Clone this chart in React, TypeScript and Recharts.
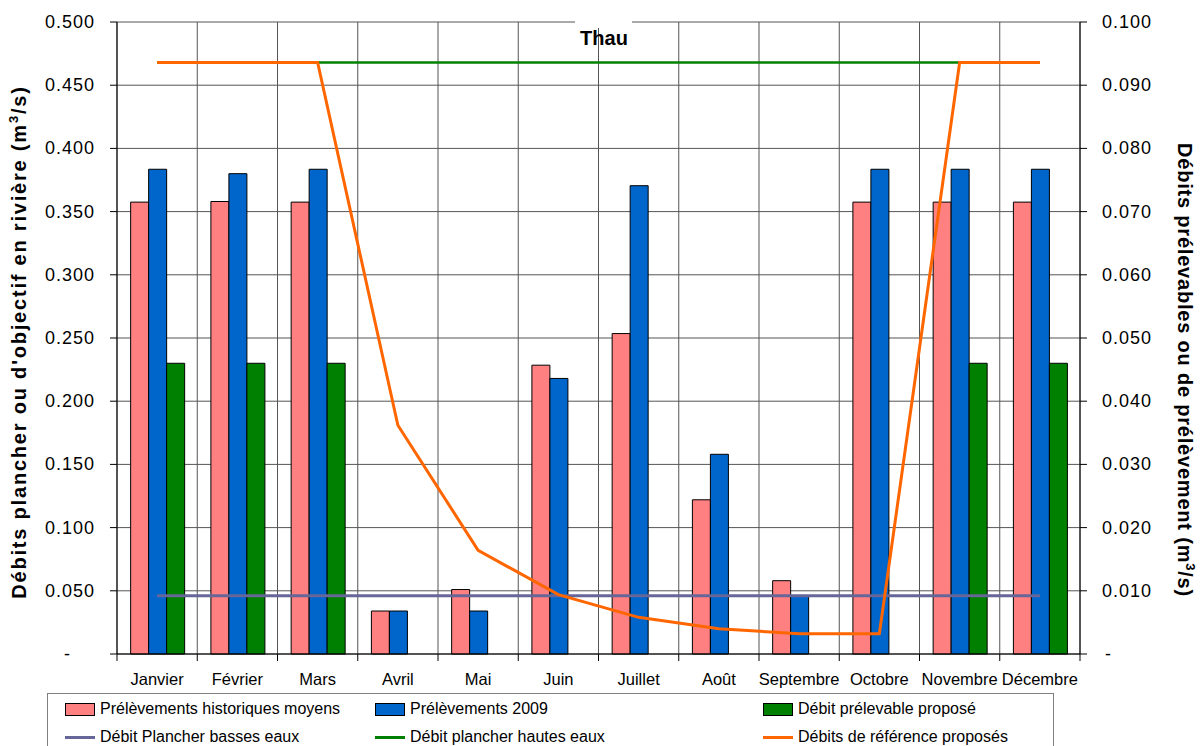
import { ComposedChart, Bar, Line, XAxis, YAxis, CartesianGrid } from 'recharts';

// Months on the category axis
const MONTHS = [
  'Janvier', 'Février', 'Mars', 'Avril', 'Mai', 'Juin',
  'Juillet', 'Août', 'Septembre', 'Octobre', 'Novembre', 'Décembre',
];

// Bars (right axis, m3/s)
const HISTORIQUES = [0.0715, 0.0716, 0.0715, 0.0068, 0.0102, 0.0457, 0.0507, 0.0244, 0.0116, 0.0715, 0.0715, 0.0715];
const PRELEV_2009 = [0.0767, 0.0760, 0.0767, 0.0068, 0.0068, 0.0436, 0.0741, 0.0316, 0.0092, 0.0767, 0.0767, 0.0767];
const PRELEVABLE = [0.046, 0.046, 0.046, null, null, null, null, null, null, null, 0.046, 0.046];

// Lines (left axis, m3/s)
const PLANCHER_BASSES = [0.046, 0.046, 0.046, 0.046, 0.046, 0.046, 0.046, 0.046, 0.046, 0.046, 0.046, 0.046];
const PLANCHER_HAUTES = [0.468, 0.468, 0.468, 0.468, 0.468, 0.468, 0.468, 0.468, 0.468, 0.468, 0.468, 0.468];
const REFERENCE = [0.468, 0.468, 0.468, 0.181, 0.082, 0.047, 0.029, 0.020, 0.016, 0.016, 0.468, 0.468];

const LEFT_TICKS = [0, 0.05, 0.1, 0.15, 0.2, 0.25, 0.3, 0.35, 0.4, 0.45, 0.5];
const RIGHT_TICKS = [0, 0.01, 0.02, 0.03, 0.04, 0.05, 0.06, 0.07, 0.08, 0.09, 0.1];

const COLORS = {
  historiques: '#FF8080',
  prelev2009: '#0066CC',
  prelevable: '#008000',
  basses: '#666699',
  hautes: '#008000',
  reference: '#FF6600',
};

const LEGEND_ITEMS = [
  { label: 'Prélèvements historiques moyens', color: COLORS.historiques, kind: 'bar' },
  { label: 'Prélèvements 2009', color: COLORS.prelev2009, kind: 'bar' },
  { label: 'Débit prélevable proposé', color: COLORS.prelevable, kind: 'bar' },
  { label: 'Débit Plancher basses eaux', color: COLORS.basses, kind: 'line' },
  { label: 'Débit plancher hautes eaux', color: COLORS.hautes, kind: 'line' },
  { label: 'Débits de référence proposés', color: COLORS.reference, kind: 'line' },
];

const data = MONTHS.map((month, i) => ({
  month,
  historiques: HISTORIQUES[i],
  prelev2009: PRELEV_2009[i],
  prelevable: PRELEVABLE[i],
  basses: PLANCHER_BASSES[i],
  hautes: PLANCHER_HAUTES[i],
  reference: REFERENCE[i],
}));

const FONT = '"Liberation Sans", Arial, sans-serif';
const GRID = '#555555';

const LeftTick = ({ x, y, payload }: any) => (
  <text
    x={payload.value === 0 ? x - 24 : x}
    y={y}
    dy={6}
    textAnchor="end"
    fontFamily={FONT}
    fontSize={18}
    letterSpacing={1}
    fill="#000"
  >
    {payload.value === 0 ? '-' : payload.value.toFixed(3)}
  </text>
);

const RightTick = ({ x, y, payload }: any) => (
  <text
    x={payload.value === 0 ? x + 3 : x}
    y={y}
    dy={6}
    textAnchor="start"
    fontFamily={FONT}
    fontSize={18}
    letterSpacing={1}
    fill="#000"
  >
    {payload.value === 0 ? '-' : payload.value.toFixed(3)}
  </text>
);

const MonthTick = ({ x, y, payload, index }: any) => {
  const half = payload.offset ?? 40;
  return (
    <g>
      <line x1={x - half} y1={y} x2={x - half} y2={y + 7} stroke="#000" />
      {index === MONTHS.length - 1 && (
        <line x1={x + half} y1={y} x2={x + half} y2={y + 7} stroke="#000" />
      )}
      <text x={x} y={y + 31} textAnchor="middle" fontFamily={FONT} fontSize={16.5} fill="#000">
        {payload.value}
      </text>
    </g>
  );
};

export default function App() {
  return (
    <div style={{ position: 'absolute', left: 0, top: 0, width: 1203, height: 746, background: '#fff', overflow: 'hidden' }}>
      <ComposedChart
        width={1203}
        height={746}
        data={data}
        margin={{ top: 22, right: 43, bottom: 62, left: 37 }}
        barCategoryGap="17%"
        barGap={0}
      >
        <CartesianGrid
          yAxisId="left"
          stroke={GRID}
          horizontalValues={LEFT_TICKS}
          verticalCoordinatesGenerator={({ offset }: any) =>
            MONTHS.map((_m, i) => offset.left + (i * offset.width) / MONTHS.length).concat(offset.left + offset.width)
          }
        />
        <XAxis
          dataKey="month"
          height={30}
          tickLine={false}
          tickSize={0}
          tickMargin={0}
          axisLine={{ stroke: '#000' }}
          tick={<MonthTick />}
          interval={0}
        />
        <YAxis
          yAxisId="left"
          orientation="left"
          width={80}
          domain={[0, 0.5]}
          ticks={LEFT_TICKS}
          tickSize={7}
          tickMargin={15}
          axisLine={{ stroke: '#000' }}
          tickLine={{ stroke: '#000' }}
          tick={<LeftTick />}
          interval={0}
        />
        <YAxis
          yAxisId="right"
          orientation="right"
          width={80}
          domain={[0, 0.1]}
          ticks={RIGHT_TICKS}
          tickSize={7}
          tickMargin={15}
          axisLine={{ stroke: '#000' }}
          tickLine={{ stroke: '#000' }}
          tick={<RightTick />}
          interval={0}
        />
        <Bar yAxisId="right" dataKey="historiques" fill={COLORS.historiques} stroke="#000" strokeWidth={1} isAnimationActive={false} />
        <Bar yAxisId="right" dataKey="prelev2009" fill={COLORS.prelev2009} stroke="#000" strokeWidth={1} isAnimationActive={false} />
        <Bar yAxisId="right" dataKey="prelevable" fill={COLORS.prelevable} stroke="#000" strokeWidth={1} isAnimationActive={false} />
        <Line yAxisId="left" type="linear" dataKey="basses" stroke={COLORS.basses} strokeWidth={3} dot={false} isAnimationActive={false} />
        <Line yAxisId="left" type="linear" dataKey="hautes" stroke={COLORS.hautes} strokeWidth={2.5} dot={false} isAnimationActive={false} />
        <Line yAxisId="left" type="linear" dataKey="reference" stroke={COLORS.reference} strokeWidth={3} dot={false} isAnimationActive={false} />

        {/* chart title with white box over the top gridline */}
        <rect x={575} y={14} width={57} height={14} fill="#fff" />
        <text x={604} y={45} textAnchor="middle" fontFamily={FONT} fontSize={20} fontWeight="bold" fill="#000">
          Thau
        </text>

        {/* axis titles */}
        <text
          transform="translate(26, 342) rotate(-90)"
          textAnchor="middle"
          fontFamily={FONT}
          fontSize={20}
          fontWeight="bold"
          letterSpacing={1.8}
          fill="#000"
        >
          Débits plancher ou d'objectif en rivière (m
          <tspan fontSize={13} dy={-8}>3</tspan>
          <tspan dy={8}>/s)</tspan>
        </text>
        <text
          transform="translate(1178, 370) rotate(90)"
          textAnchor="middle"
          fontFamily={FONT}
          fontSize={20}
          fontWeight="bold"
          letterSpacing={0.8}
          fill="#000"
        >
          Débits prélevables ou de prélèvement (m
          <tspan fontSize={13} dy={-8}>3</tspan>
          <tspan dy={8}>/s)</tspan>
        </text>
      </ComposedChart>

      {/* legend */}
      <div
        style={{
          position: 'absolute',
          left: 47,
          top: 693,
          width: 1007,
          height: 70,
          border: '1px solid #808080',
          boxSizing: 'border-box',
          fontFamily: FONT,
          fontSize: 16,
          color: '#000',
        }}
      >
        {LEGEND_ITEMS.map((item, i) => {
          const col = i % 3;
          const row = Math.floor(i / 3);
          const left = [17, 327, 715][col];
          return (
            <div
              key={item.label}
              style={{
                position: 'absolute',
                left,
                top: 3 + row * 28,
                height: 24,
                display: 'flex',
                alignItems: 'center',
                whiteSpace: 'nowrap',
              }}
            >
              {item.kind === 'bar' ? (
                <span
                  style={{
                    display: 'inline-block',
                    width: 28,
                    height: 11,
                    background: item.color,
                    border: '1px solid #000',
                    marginRight: 5,
                  }}
                />
              ) : (
                <span
                  style={{
                    display: 'inline-block',
                    width: 30,
                    height: 3,
                    background: item.color,
                    marginRight: 5,
                  }}
                />
              )}
              {item.label}
            </div>
          );
        })}
      </div>
    </div>
  );
}
